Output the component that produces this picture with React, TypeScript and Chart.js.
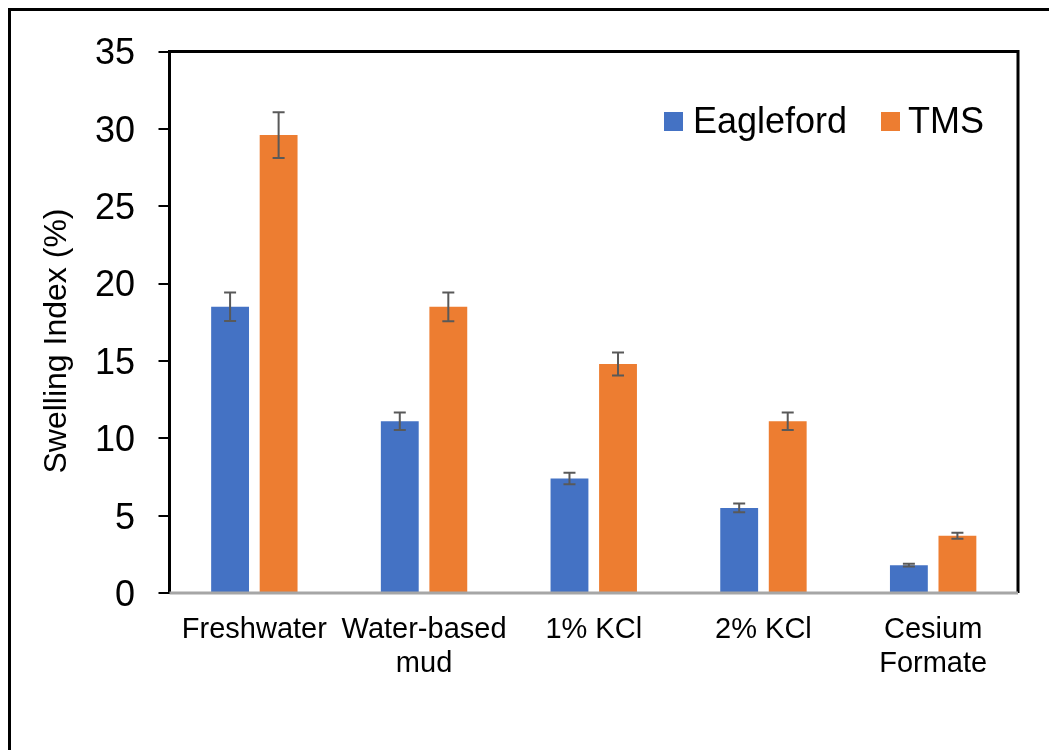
import React, { useEffect, useRef } from "react";
import { Chart, registerables } from "chart.js";

Chart.register(...registerables);

const categories: string[][] = [
  ["Freshwater"],
  ["Water-based", "mud"],
  ["1% KCl"],
  ["2% KCl"],
  ["Cesium", "Formate"],
];
const seriesNames = ["Eagleford", "TMS"];
const eaglefordValues = [18.5, 11.1, 7.4, 5.5, 1.8];
const tmsValues = [29.6, 18.5, 14.8, 11.1, 3.7];
const eaglefordErrors = [0.92, 0.56, 0.37, 0.28, 0.09];
const tmsErrors = [1.48, 0.93, 0.74, 0.56, 0.19];
const yTicks = [0, 5, 10, 15, 20, 25, 30, 35];
const yAxisTitle = "Swelling Index (%)";

const FONT = "'Liberation Sans', Arial, sans-serif";
const BLUE = "#4472C4";
const ORANGE = "#ED7D31";

const errorBarPlugin = {
  id: "errorBars",
  afterDatasetsDraw(chart: any) {
    const ctx = chart.ctx;
    const yScale = chart.scales.y;
    chart.data.datasets.forEach((ds: any, i: number) => {
      const meta = chart.getDatasetMeta(i);
      const errs: number[] = ds.errors || [];
      meta.data.forEach((bar: any, j: number) => {
        const v = ds.data[j];
        const e = errs[j] || 0;
        const x = bar.x;
        const yt = yScale.getPixelForValue(v + e);
        const yb = yScale.getPixelForValue(v - e);
        ctx.save();
        ctx.strokeStyle = "#595959";
        ctx.lineWidth = 2;
        ctx.beginPath();
        ctx.moveTo(x, yt);
        ctx.lineTo(x, yb);
        ctx.moveTo(x - 6, yt);
        ctx.lineTo(x + 6, yt);
        ctx.moveTo(x - 6, yb);
        ctx.lineTo(x + 6, yb);
        ctx.stroke();
        ctx.restore();
      });
    });
  },
};

const framePlugin = {
  id: "frame",
  afterDatasetsDraw(chart: any) {
    const { ctx, chartArea: a } = chart;
    ctx.save();
    ctx.lineWidth = 3;
    ctx.strokeStyle = "#000";
    ctx.beginPath();
    ctx.moveTo(a.left, a.bottom);
    ctx.lineTo(a.left, a.top);
    ctx.lineTo(a.right, a.top);
    ctx.lineTo(a.right, a.bottom);
    ctx.stroke();
    ctx.strokeStyle = "#A6A6A6";
    ctx.beginPath();
    ctx.moveTo(a.left, a.bottom);
    ctx.lineTo(a.right, a.bottom);
    ctx.stroke();
    ctx.restore();
  },
};

const legendPlugin = {
  id: "insideLegend",
  afterDraw(chart: any) {
    const ctx = chart.ctx;
    const items = [
      { box: 664, text: 693 },
      { box: 881, text: 908 },
    ];
    ctx.save();
    ctx.font = `36px ${FONT}`;
    ctx.textBaseline = "alphabetic";
    ctx.textAlign = "left";
    chart.data.datasets.forEach((ds: any, i: number) => {
      const it = items[i];
      ctx.fillStyle = ds.backgroundColor;
      ctx.fillRect(it.box, 112, 19, 19);
      ctx.fillStyle = "#000";
      ctx.fillText(ds.label, it.text, 133);
    });
    ctx.restore();
  },
};

const yTitlePlugin = {
  id: "yTitle",
  afterDraw(chart: any) {
    const ctx = chart.ctx;
    ctx.save();
    ctx.translate(66, 341);
    ctx.rotate(-Math.PI / 2);
    ctx.font = `32px ${FONT}`;
    ctx.fillStyle = "#000";
    ctx.textAlign = "center";
    ctx.textBaseline = "alphabetic";
    ctx.fillText(yAxisTitle, 0, 0);
    ctx.restore();
  },
};

export default function App() {
  const ref = useRef<HTMLCanvasElement>(null);
  useEffect(() => {
    const chart = new Chart(ref.current as HTMLCanvasElement, {
      type: "bar",
      data: {
        labels: categories as any,
        datasets: [
          { label: seriesNames[0], data: eaglefordValues, backgroundColor: BLUE, errors: eaglefordErrors } as any,
          { label: seriesNames[1], data: tmsValues, backgroundColor: ORANGE, errors: tmsErrors } as any,
        ],
      },
      options: {
        responsive: false,
        animation: false,
        devicePixelRatio: 1,
        datasets: { bar: { categoryPercentage: 0.572, barPercentage: 0.78 } },
        layout: { padding: { left: 0, top: 51.5, right: 31, bottom: 0 } },
        plugins: { legend: { display: false }, tooltip: { enabled: false } },
        scales: {
          x: {
            grid: { display: false },
            border: { display: false },
            ticks: {
              font: { family: FONT, size: 29, lineHeight: 34 / 29 },
              color: "#000",
              padding: 12,
              maxRotation: 0,
              autoSkip: false,
            },
            afterFit: (s: any) => {
              s.height = 157;
            },
          },
          y: {
            min: 0,
            max: 35,
            afterBuildTicks: (s: any) => {
              s.ticks = yTicks.map((v) => ({ value: v }));
            },
            ticks: {
              font: { family: FONT, size: 36 },
              color: "#000",
              padding: 23.5,
              labelOffset: 3,
            },
            grid: { drawOnChartArea: false, drawTicks: true, tickLength: 11, color: "#000", lineWidth: 2 },
            border: { display: false },
            afterFit: (s: any) => {
              s.width = 169.5;
            },
          },
        },
      } as any,
      plugins: [framePlugin, errorBarPlugin, legendPlugin, yTitlePlugin],
    });
    return () => chart.destroy();
  }, []);

  return (
    <div style={{ position: "fixed", left: 0, top: 0, width: 1049, height: 750, overflow: "hidden", background: "#fff" }}>
      <canvas ref={ref} width={1049} height={750} style={{ position: "absolute", left: 0, top: 0, width: 1049, height: 750 }} />
      <div
        style={{
          position: "absolute",
          left: 8,
          top: 8,
          width: 1100,
          height: 800,
          borderLeft: "3px solid #000",
          borderTop: "3px solid #000",
          pointerEvents: "none",
        }}
      />
    </div>
  );
}
